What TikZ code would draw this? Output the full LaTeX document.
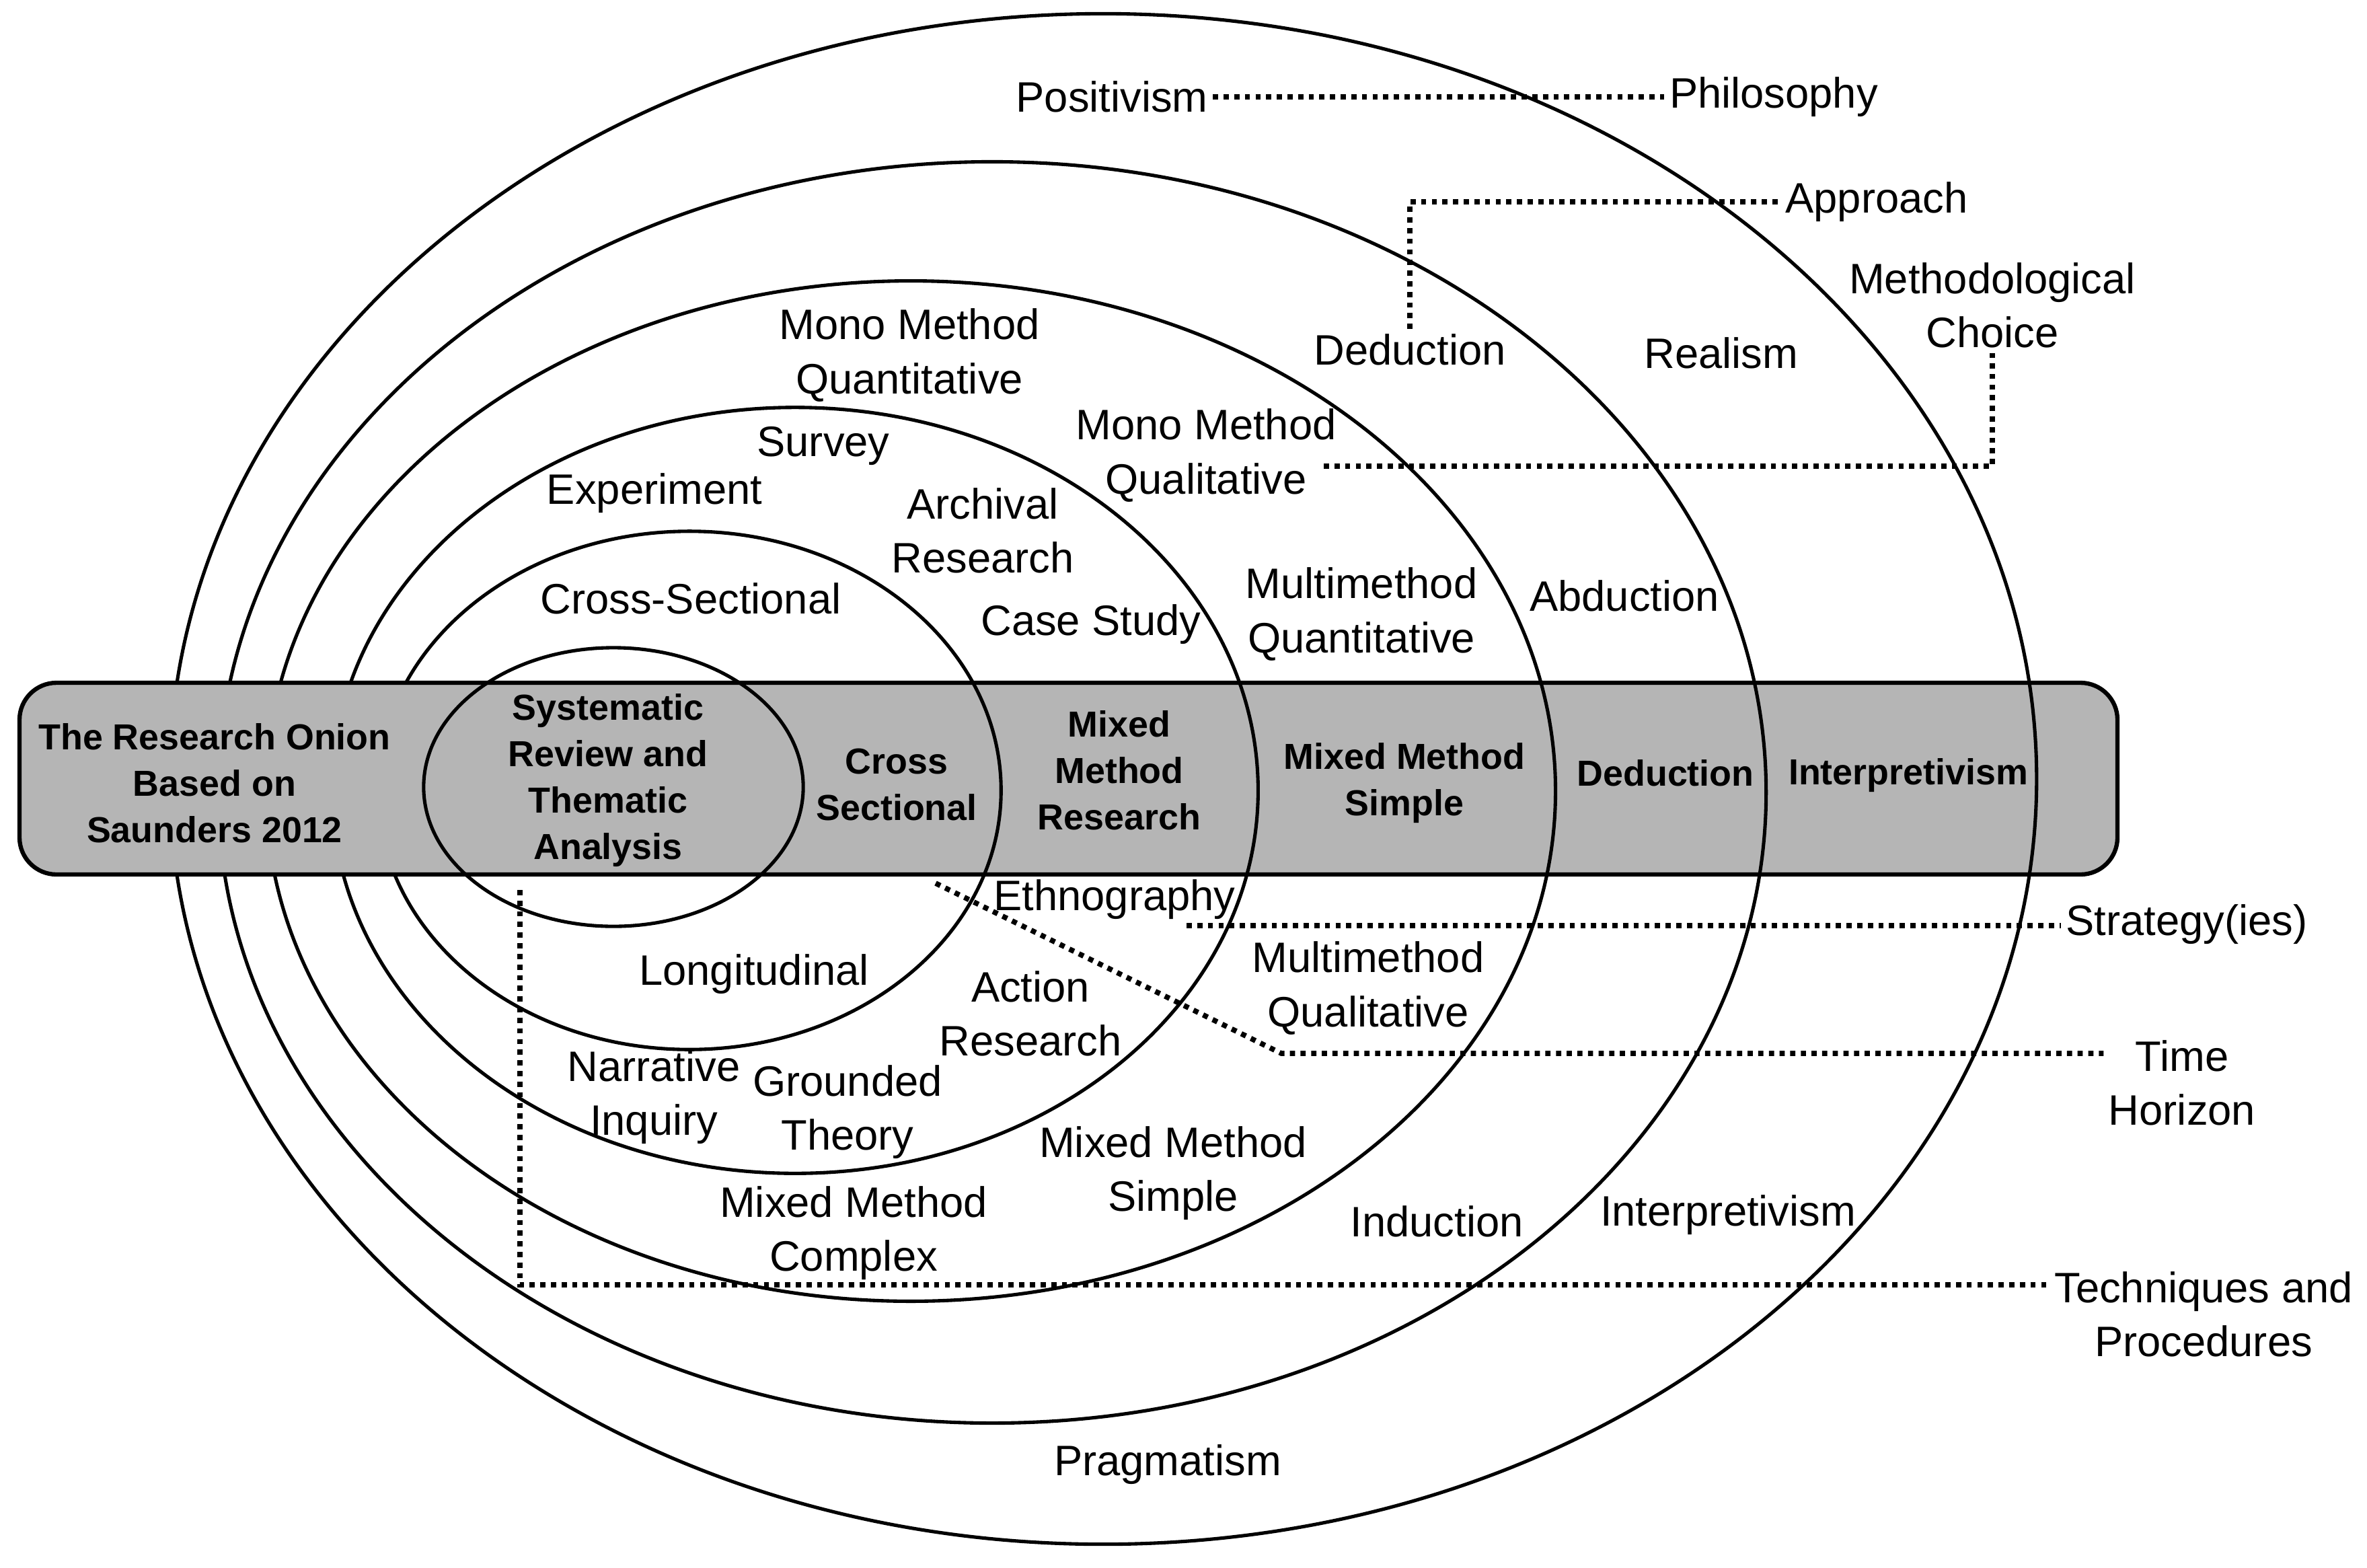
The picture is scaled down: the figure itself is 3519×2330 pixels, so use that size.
\documentclass[tikz,border=0pt]{standalone}
\usepackage{fontspec}
\setmainfont{Liberation Sans}
\tikzstyle{ring}=[draw=black, line width=1.45pt]
\tikzstyle{band}=[draw=black, line width=1.8pt, fill=black!29, rounded corners=0.55cm]
\tikzstyle{label}=[font=\fontsize{18}{22.8}\selectfont, align=center, inner sep=2pt]
\tikzstyle{bandlabel}=[font=\bfseries\fontsize{15.3}{19.6}\selectfont, align=center, inner sep=2pt]
\tikzstyle{leader}=[draw, line width=2.2pt, dash pattern=on 2.2pt off 2.3pt]
\newcommand{\onionrings}{{(1640,1158)/13.87cm/11.37cm}, {(1475,1178)/11.50cm/9.37cm},
	{(1354,1176)/9.58cm/7.58cm}, {(1182,1175)/6.88cm/5.69cm}, {(1025,1175)/4.63cm/3.85cm}}

\begin{document}
\begin{tikzpicture}[x=0.01cm, y=-0.01cm]
				\useasboundingbox (0,0) rectangle (3519,2330);

				% Draw the rings, then the band over their left sides
				\foreach \pos/\rx/\ry in \onionrings
				\draw[ring] \pos ellipse [x radius=\rx, y radius=\ry];
				\path[band] (29,1015) rectangle (3148,1300);

				% Redraw the rings where they cross the band on the right
				\begin{scope}
				\clip (620,1015) rectangle (3148,1300);
				\foreach \pos/\rx/\ry in \onionrings
				\draw[ring] \pos ellipse [x radius=\rx, y radius=\ry];
				\end{scope}
				\draw[ring] (912,1170) ellipse [x radius=2.82cm, y radius=2.07cm];

				% Draw the labels in the band
				\foreach \pos/\name/\text in {{(319,1164)/onion/{The Research Onion\\Based on\\Saunders 2012}},
										{(904,1160)/systematic/{Systematic\\Review and\\Thematic\\Analysis}},
										{(1333,1166)/crossband/{Cross\\Sectional}}, {(1664,1145)/mmresearch/{Mixed\\Method\\Research}},
										{(2088,1164)/mmsimpleband/{Mixed Method\\Simple}}, {(2476,1149)/dedband/Deduction},
										{(2837,1153)/interpband/Interpretivism}}
				\node[bandlabel] (\name) at \pos {\text};

				% Draw the labels on the rings
				\foreach \pos/\name/\text in {{(1653,144)/positivism/Positivism}, {(2637,144)/philosophy/Philosophy},
										{(2790,300)/approach/Approach}, {(2962,454)/methchoice/{Methodological\\Choice}},
										{(2096,520)/dedtop/Deduction}, {(2559,525)/realism/Realism},
										{(1352,528)/monoquant/{Mono Method\\Quantitative}}, {(1793,677)/monoqual/{Mono Method\\Qualitative}},
										{(1224,663)/survey/Survey}, {(973,733)/experiment/Experiment},
										{(1461,789)/archival/{Archival\\Research}}, {(1027,890)/crosssec/Cross-Sectional},
										{(1622,928)/casestudy/Case Study}, {(2024,913)/multiquant/{Multimethod\\Quantitative}},
										{(2415,886)/abduction/Abduction}, {(1657,1337)/ethnography/Ethnography},
										{(3251,1374)/strategy/Strategy(ies)}, {(1121,1448)/longitudinal/Longitudinal},
										{(1532,1507)/action/{Action\\Research}}, {(2034,1469)/multiqual/{Multimethod\\Qualitative}},
										{(3244,1610)/timehor/{Time\\Horizon}}, {(972,1631)/narrative/{Narrative\\Inquiry}},
										{(1260,1653)/grounded/{Grounded\\Theory}}, {(1744,1744)/mmsimple/{Mixed Method\\Simple}},
										{(1269,1833)/mmcomplex/{Mixed Method\\Complex}}, {(2136,1816)/induction/Induction},
										{(2569,1806)/interpbot/Interpretivism}, {(3276,1954)/techniques/{Techniques and\\Procedures}},
										{(1736,2177)/pragmatism/Pragmatism}}
				\node[label] (\name) at \pos {\text};

				% Connect the layer names with dotted leaders
				\coordinate (mcA) at (1968,693);
				\coordinate (stA) at (1764,1376);
				\coordinate (thA) at (1391,1313);
				\coordinate (thB) at (1905,1566);
				\coordinate (tqA) at (773,1323);
				\coordinate (tqB) at (773,1910);
				\path[leader] (positivism) -- (philosophy);
				\path[leader] (dedtop.north) |- (approach.west);
				\path[leader] (mcA) -| (methchoice.south);
				\path[leader] (stA) -- (stA -| strategy.west);
				\path[leader] (thA) -- (thB) -- (thB -| timehor.west);
				\path[leader] (tqA) -- (tqB) -- (tqB -| techniques.west);
			\end{tikzpicture}
\end{document}
